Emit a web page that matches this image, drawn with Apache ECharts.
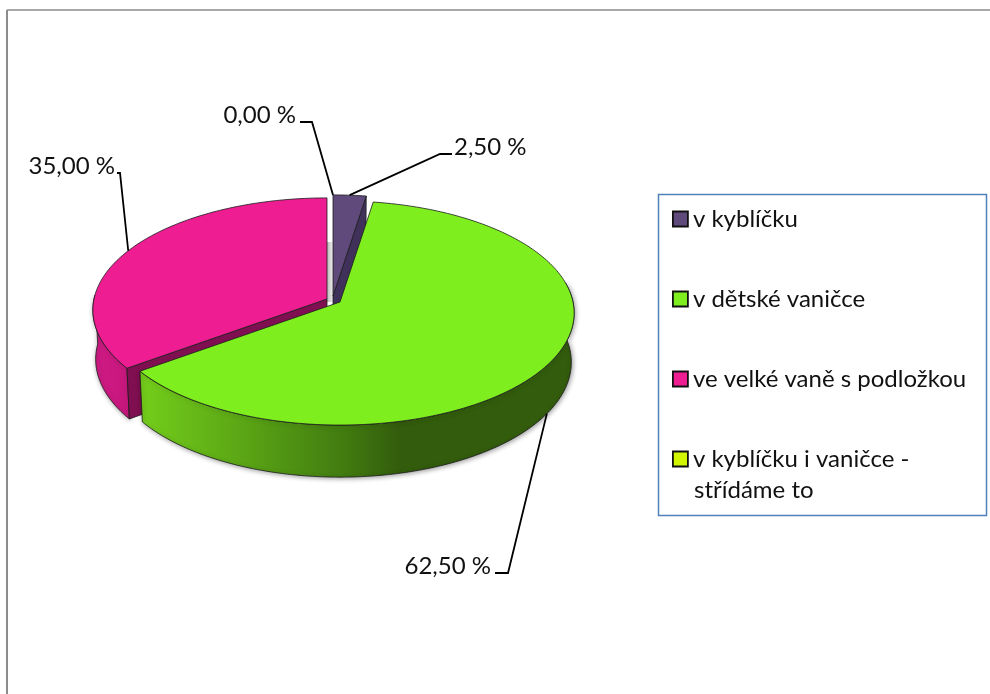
<!DOCTYPE html>
<html>
<head>
<meta charset="utf-8">
<title>Koupání</title>
<script src="https://cdn.jsdelivr.net/npm/echarts@6/dist/echarts.min.js"></script>
<style>
  html, body { margin: 0; padding: 0; background: #fff; }
  #chart { width: 990px; height: 694px; }
</style>
</head>
<body>
<div id="chart"></div>
<script>
const categories = ['v kyblíčku', 'v dětské vaničce', 've velké vaně s podložkou', 'v kyblíčku i vaničce -']
const legendSecondLine = 'střídáme to'
const values = [2.5, 62.5, 35, 0]
const colors = ['#5f4a7b', '#7fee1e', '#ee1e92', '#d2f500']

const FONT = 'Lato, "Noto Sans", sans-serif'

// projection of the pie disc (perspective, so the apex is not the ellipse centre)
const RX = 233, RY = 111, K = 0.098, DEPTH = 49
const BOTTOM_X = 0.988, BOTTOM_Y = 1.025

// where each slice ends up after being pulled out, draw order and leader lines
const slices = [
  { cx: 333, cy: 296, z: 2, bend: [[440, 154], [452, 154]], textAlign: 'left', textX: 454, textY: 147 },
  { cx: 340, cy: 302, z: 3, onBottom: true, bend: [[508, 573], [495, 573]], textX: 491, textY: 566, textAlign: 'right' },
  { cx: 327, cy: 299, z: 1, bend: [[120, 173], [117, 173]], textX: 115, textY: 166, textAlign: 'right' },
  { cx: 333, cy: 296, z: 4, bend: [[312, 122], [300, 122]], textX: 296, textY: 115, textAlign: 'right' }
]

const total = values.reduce((a, b) => a + b, 0)

function rimPoint(s, deg, bottom) {
  const a = deg * Math.PI / 180
  const u = Math.sin(a), v = Math.cos(a)
  const w = 1 + K * v
  const dx = RX * u / w, dy = -RY * v / w
  if (bottom) return [s.cx + dx * BOTTOM_X, s.cy + dy * BOTTOM_Y + DEPTH]
  return [s.cx + dx, s.cy + dy]
}

function arc(s, from, to, bottom) {
  const pts = []
  const n = Math.max(2, Math.ceil(Math.abs(to - from)))
  for (let i = 0; i <= n; i++) pts.push(rimPoint(s, from + (to - from) * i / n, bottom))
  return pts
}

function poly(points, fill, extra) {
  return {
    type: 'polygon',
    shape: { points },
    style: Object.assign({ fill, stroke: '#1c1c1c', lineWidth: 0.8 }, extra || {})
  }
}

function sideFill(index) {
  if (index === 1) {
    return new echarts.graphic.LinearGradient(140, 0, 400, 0, [
      { offset: 0, color: '#74ce1b' },
      { offset: 0.4, color: '#5aa515' },
      { offset: 0.8, color: '#417a10' },
      { offset: 1, color: '#335c0c' }
    ], true)
  }
  if (index === 2) return new echarts.graphic.LinearGradient(93, 0, 130, 0, [
    { offset: 0, color: '#d01a85' },
    { offset: 1, color: '#c5177c' }
  ], true)
  return '#3f3152'
}

const cutFaces = ['#40315a', null, '#7f0f50', null]

function renderSlice(params, api) {
  const i = params.seriesIndex
  const s = slices[i]
  const value = api.value(0)
  const before = values.slice(0, i).reduce((a, b) => a + b, 0)
  const start = before / total * 360
  const end = (before + value) / total * 360
  const mid = (start + end) / 2
  const children = []

  if (value > 0) {
    // outer wall, only the front part of the rim shows
    const wallFrom = Math.max(start, 80), wallTo = Math.min(end, 272)
    if (wallTo > wallFrom) {
      const wall = arc(s, wallFrom, wallTo, false).concat(arc(s, wallTo, wallFrom, true))
      children.push(poly(wall, sideFill(i), {
        shadowColor: 'rgba(0,0,0,0.4)', shadowBlur: 5, shadowOffsetX: 1, shadowOffsetY: 1
      }))
    }
    // cut face seen through the gap between slices
    if (i === 0) {
      const a = rimPoint(s, end), b = rimPoint(s, end, true)
      children.push(poly([[s.cx, s.cy], a, b, [s.cx, s.cy + DEPTH]], cutFaces[0]))
    }
    if (i === 2) {
      const a = rimPoint(s, start), b = rimPoint(s, start, true)
      children.push(poly([[s.cx, s.cy], a, b, [s.cx, s.cy + DEPTH]], cutFaces[2]))
    }
    // top face
    children.push(poly([[s.cx, s.cy]].concat(arc(s, start, end, false)), colors[i]))
  }

  // leader line and value label
  const anchor = rimPoint(s, mid, s.onBottom)
  children.push({
    type: 'polyline',
    shape: { points: [anchor].concat(s.bend) },
    style: { fill: null, stroke: '#000', lineWidth: 1.8 },
    z2: 5
  })
  children.push({
    type: 'text',
    z2: 6,
    style: {
      text: value.toFixed(2).replace('.', ',') + ' %',
      x: s.textX,
      y: s.textY,
      align: s.textAlign,
      verticalAlign: 'middle',
      font: '24px ' + FONT,
      fill: '#111'
    }
  })
  return { type: 'group', children }
}

const chart = echarts.init(document.getElementById('chart'))

chart.setOption({
  animation: false,
  backgroundColor: '#fff',
  legend: {
    orient: 'vertical',
    left: 672,
    top: 206,
    padding: 0,
    icon: 'rect',
    itemWidth: 15,
    itemHeight: 15,
    itemGap: 54,
    selectedMode: false,
    itemStyle: { borderColor: '#111', borderWidth: 1.8 },
    textStyle: { fontFamily: FONT, fontSize: 24, color: '#111', lineHeight: 26 }
  },
  graphic: [
    // chart area frame, open on the right and at the bottom
    { type: 'line', z: 0, shape: { x1: 7, y1: 10, x2: 990, y2: 10 }, style: { stroke: '#8c8c8c', lineWidth: 1.5 } },
    { type: 'line', z: 0, shape: { x1: 7, y1: 10, x2: 7, y2: 694 }, style: { stroke: '#8c8c8c', lineWidth: 2 } },
    // legend box
    { type: 'rect', z: 0, shape: { x: 658.5, y: 194.5, width: 328, height: 321 }, style: { fill: '#fff', stroke: '#4f81bd', lineWidth: 1.5 } },
    { type: 'text', z: 10, style: { text: legendSecondLine, x: 694, y: 490, verticalAlign: 'middle', font: '24px ' + FONT, fill: '#111' } },
    // soft shadow in the gap between the slices
    {
      type: 'rect', z: 0, shape: { x: 327, y: 242, width: 6, height: 60 },
      style: {
        fill: new echarts.graphic.LinearGradient(0, 0, 1, 0, [
          { offset: 0, color: '#b9b9b9' },
          { offset: 1, color: '#f2f2f2' }
        ])
      }
    }
  ],
  series: categories.map((name, i) => ({
    type: 'custom',
    name,
    coordinateSystem: 'none',
    z: slices[i].z + 2,
    silent: true,
    itemStyle: { color: colors[i] },
    renderItem: renderSlice,
    data: [[values[i]]]
  }))
})
</script>
</body>
</html>
